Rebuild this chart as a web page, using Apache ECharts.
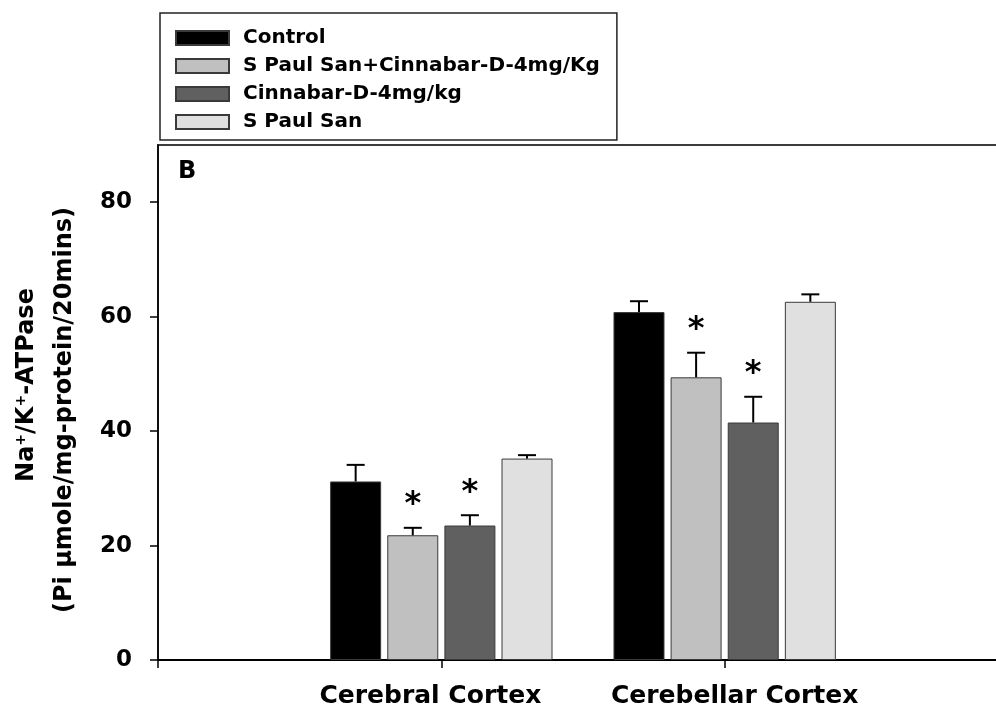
<!DOCTYPE html>
<html>
<head>
<meta charset="utf-8">
<title>Na+/K+-ATPase activity</title>
<script src="https://cdn.jsdelivr.net/npm/echarts@6/dist/echarts.min.js"></script>
<style>
  html, body { margin: 0; padding: 0; background: #fff; }
  #chart { width: 996px; height: 710px; }
</style>
</head>
<body>
<div id="chart"></div>
<script>
// Brain regions (outer slots on the axis stay empty)
const regions = ['Cerebral Cortex', 'Cerebellar Cortex'];
const groupNames = ['Control', 'S Paul San+Cinnabar-D-4mg/Kg', 'Cinnabar-D-4mg/kg', 'S Paul San'];

// Mean activity per region
const controlMean = [31.2, 60.8];
const spsCinMean  = [21.8, 49.4];
const cinMean     = [23.5, 41.5];
const spsMean     = [35.2, 62.6];

// Standard error per region
const controlSem = [2.9, 1.9];
const spsCinSem  = [1.3, 4.3];
const cinSem     = [1.8, 4.5];
const spsSem     = [0.6, 1.3];

// Significance flags (drawn as *)
const controlSig = [false, false];
const spsCinSig  = [true, true];
const cinSig     = [true, true];
const spsSig     = [false, false];

const yTicks = [0, 20, 40, 60, 80];

const means = [controlMean, spsCinMean, cinMean, spsMean];
const sems  = [controlSem, spsCinSem, cinSem, spsSem];
const sigs  = [controlSig, spsCinSig, cinSig, spsSig];
const colors = ['#000000', '#c0c0c0', '#606060', '#e0e0e0'];

// Region labels sit slightly apart from their ticks
const labelPads = [[0, 22, 0, 0], [0, 0, 0, 20]];
const categories = [''].concat(
  regions.map((r, k) => ({ value: r, textStyle: { padding: labelPads[k] } })),
  ['']
);

const BAR_W = 51;
const GAP_RATIO = 0.12;

const chart = echarts.init(document.getElementById('chart'), null, { renderer: 'canvas' });

const barSeries = groupNames.map((name, i) => ({
  name: name,
  type: 'bar',
  barWidth: BAR_W,
  barGap: (GAP_RATIO * 100) + '%',
  data: ['-'].concat(means[i], ['-']),
  itemStyle: { color: colors[i], borderColor: '#3a3a3a', borderWidth: 1 },
  emphasis: { disabled: true },
  z: 2
}));

const errSeries = groupNames.map((name, i) => ({
  type: 'custom',
  z: 5,
  silent: true,
  data: regions.map((r, k) => [k + 1, means[i][k], means[i][k] + sems[i][k], sigs[i][k] ? 1 : 0]),
  renderItem: function (params, api) {
    const step = BAR_W * (1 + GAP_RATIO);
    const off = (i - 1.5) * step;
    const base = api.coord([api.value(0), api.value(1)]);
    const top = api.coord([api.value(0), api.value(2)]);
    const cx = base[0] + off;
    const children = [
      { type: 'line', shape: { x1: cx, y1: base[1], x2: cx, y2: top[1] }, style: { stroke: '#000', lineWidth: 2 } },
      { type: 'line', shape: { x1: cx - 9, y1: top[1], x2: cx + 9, y2: top[1] }, style: { stroke: '#000', lineWidth: 2 } }
    ];
    if (api.value(3)) {
      children.push({
        type: 'text',
        style: {
          text: '*', x: cx, y: top[1] - 23,
          align: 'center', verticalAlign: 'middle',
          font: 'bold 32px "DejaVu Sans"', fill: '#000'
        }
      });
    }
    return { type: 'group', children: children };
  }
}));

chart.setOption({
  animation: false,
  backgroundColor: '#fff',
  grid: {
    left: 158, right: -12, top: 145, bottom: 50,
    outerBoundsMode: 'none',
    containLabel: false,
    show: true, borderColor: '#3c3c3c', borderWidth: 2, backgroundColor: 'transparent'
  },
  legend: {
    data: groupNames,
    orient: 'vertical',
    left: 160, top: 13,
    padding: [15, 17, 8, 15],
    itemWidth: 53, itemHeight: 14, itemGap: 8,
    icon: 'rect',
    borderColor: '#222', borderWidth: 1.5,
    selectedMode: false,
    textStyle: {
      fontFamily: 'DejaVu Sans', fontWeight: 'bold', fontSize: 20, color: '#000',
      lineHeight: 20, padding: [0, 0, 0, 9]
    }
  },
  xAxis: {
    type: 'category',
    data: categories,
    boundaryGap: false,
    axisLine: { lineStyle: { color: '#000', width: 2 } },
    axisTick: { length: 8, interval: 0, lineStyle: { color: '#000', width: 1.5 } },
    axisLabel: {
      interval: 0, margin: 24,
      fontFamily: 'DejaVu Sans', fontWeight: 'bold', fontSize: 25, color: '#000'
    },
    splitLine: { show: false }
  },
  yAxis: {
    type: 'value',
    min: 0, max: 90,
    axisLine: { show: true, lineStyle: { color: '#000', width: 1.5 } },
    axisTick: { show: true, length: 8, customValues: yTicks, lineStyle: { color: '#000', width: 1.5 } },
    axisLabel: {
      customValues: yTicks, margin: 26,
      fontFamily: 'DejaVu Sans', fontWeight: 'bold', fontSize: 23, color: '#000'
    },
    splitLine: { show: false }
  },
  graphic: [
    {
      type: 'text', left: 178, top: 160,
      style: { text: 'B', font: 'bold 24px "DejaVu Sans"', fill: '#000' }
    },
    {
      type: 'text', x: 27, y: 385, rotation: Math.PI / 2,
      style: {
        text: '{n|Na}{s|+}{n|/K}{s|+}{n|-ATPase}',
        align: 'center', verticalAlign: 'middle',
        rich: {
          n: { fontFamily: 'DejaVu Sans', fontWeight: 'bold', fontSize: 24, lineHeight: 26, fill: '#000' },
          s: { fontFamily: 'DejaVu Sans', fontWeight: 'bold', fontSize: 14, lineHeight: 26, verticalAlign: 'top', fill: '#000' }
        }
      }
    },
    {
      type: 'text', x: 65, y: 410, rotation: Math.PI / 2,
      style: {
        text: '(Pi µmole/mg-protein/20mins)',
        align: 'center', verticalAlign: 'middle',
        font: 'bold 24px "DejaVu Sans"', fill: '#000'
      }
    }
  ],
  series: barSeries.concat(errSeries)
});
</script>
</body>
</html>
